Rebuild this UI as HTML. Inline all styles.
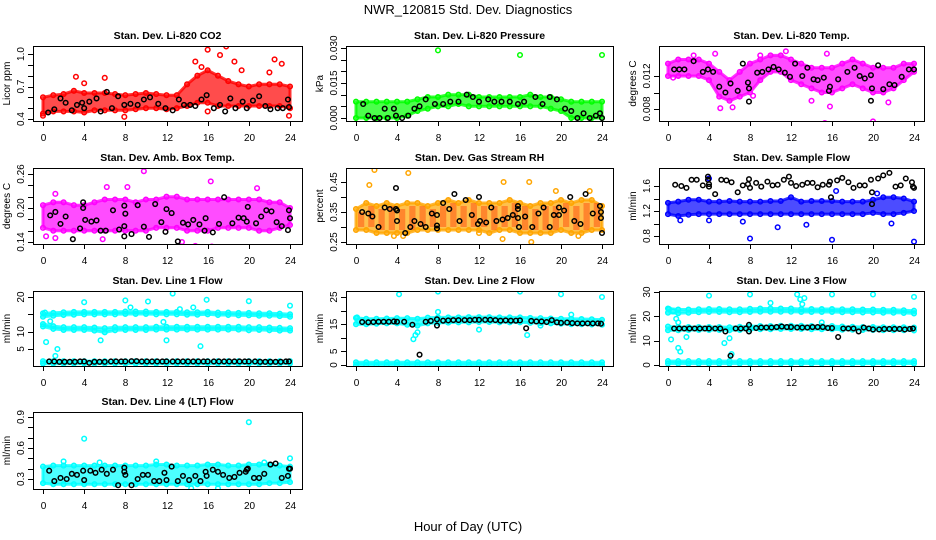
<!DOCTYPE html>
<html><head><meta charset="utf-8"><style>
body{margin:0;background:#fff;}
svg{display:block;font-family:"Liberation Sans",sans-serif;}
</style></head><body>
<svg id="chart" width="936" height="540" viewBox="0 0 936 540">
<text x="468" y="14" text-anchor="middle" font-size="13">NWR_120815  Std. Dev. Diagnostics</text>
<text x="468" y="531" text-anchor="middle" font-size="13">Hour of Day (UTC)</text>
</svg>
<script>
const hours=[0,1,2,3,4,5,6,7,8,9,10,11,12,13,14,15,16,17,18,19,20,21,22,23,24];
const xTicks=[0,4,8,12,16,20,24];

const co2Lo=[0.45,0.47,0.47,0.47,0.46,0.48,0.48,0.48,0.48,0.49,0.50,0.50,0.49,0.50,0.52,0.55,0.55,0.52,0.52,0.52,0.52,0.52,0.52,0.52,0.50];
const co2Hi=[0.60,0.62,0.63,0.66,0.64,0.64,0.64,0.63,0.62,0.63,0.64,0.63,0.62,0.62,0.72,0.80,0.85,0.80,0.75,0.72,0.70,0.72,0.72,0.72,0.70];
const co2Out=[[0,0.43],[3.2,0.79],[4,0.73],[6,0.78],[7.9,0.42],[14.8,0.93],[16,1.04],[17.2,0.99],[17.8,1.07],[18.6,0.93],[22.5,0.95],[23.2,0.91],[23.9,0.43],[16,0.47],[22,0.83],[15.4,0.88],[19.3,0.85]];
const co2Blk=[[0.5,0.46],[1.1,0.49],[1.7,0.59],[2.2,0.55],[2.8,0.48],[3.3,0.53],[3.8,0.55],[4,0.50],[4.5,0.56],[5.2,0.59],[5.6,0.47],[6.2,0.65],[6.7,0.50],[7.3,0.61],[7.9,0.53],[8.5,0.54],[9.2,0.53],[9.8,0.58],[10.4,0.60],[11.2,0.54],[11.9,0.50],[12.6,0.48],[13.2,0.58],[13.7,0.53],[14.3,0.53],[14.8,0.52],[15.4,0.58],[15.9,0.62],[16.6,0.50],[17.2,0.53],[17.7,0.47],[18.2,0.59],[18.7,0.50],[19.4,0.56],[19.8,0.50],[20.4,0.57],[21,0.61],[21.6,0.52],[22.1,0.49],[22.8,0.50],[23.3,0.50],[23.9,0.51],[23.8,0.58]];

const presLo=[0,0,0,0,0,0.001,0.003,0.004,0.005,0.005,0.006,0.005,0.005,0.005,0.005,0.005,0.005,0.005,0.005,0.004,0.003,0,0,0,0];
const presHi=[0.007,0.007,0.007,0.007,0.007,0.007,0.008,0.009,0.009,0.010,0.010,0.010,0.009,0.009,0.009,0.009,0.009,0.010,0.009,0.009,0.008,0.007,0.007,0.007,0.007];
const presOut=[[8,0.029],[16,0.027],[24,0.027]];
const presBlk=[[0.7,0.006],[1.2,0.001],[1.8,0],[2.3,0],[2.8,0.004],[3.1,0],[3.7,0.004],[3.9,0.001],[4.5,0],[5.1,0.001],[5.7,0.004],[6.2,0.005],[6.8,0.008],[7.7,0.006],[8.5,0.006],[9.2,0.007],[10,0.007],[10.8,0.010],[11.4,0.009],[12,0.007],[12.9,0.008],[13.5,0.007],[14.2,0.007],[15,0.007],[15.8,0.006],[16.4,0.007],[17.5,0.009],[18.2,0.006],[18.9,0.009],[19.6,0.008],[20.4,0.004],[21,0.003],[21.6,0],[22.2,0.002],[22.8,0],[23.4,0.001],[23.8,0.002],[24,0]];

const tempLo=[0.0120,0.0120,0.0120,0.0120,0.0115,0.0095,0.0090,0.0095,0.0100,0.0115,0.0125,0.0125,0.0115,0.0110,0.0105,0.0100,0.0100,0.0105,0.0110,0.0105,0.0100,0.0100,0.0105,0.0115,0.0125];
const tempHi=[0.0135,0.0140,0.0140,0.0140,0.0135,0.0125,0.0115,0.0125,0.0135,0.0140,0.0145,0.0145,0.0140,0.0135,0.0130,0.0130,0.0130,0.0135,0.0140,0.0135,0.0130,0.0130,0.0130,0.0135,0.0135];
const tempOut=[[4.6,0.0147],[5.1,0.0081],[6.3,0.0082],[11.5,0.0150],[15.3,0.0063],[15.8,0.0083],[20,0.0065],[15.5,0.0147],[9,0.0145],[2.5,0.0145],[21.5,0.0088],[8.3,0.0096],[0.5,0.0118],[14,0.0090]];
const tempBlk=[[0.6,0.0128],[1.1,0.0128],[1.6,0.0128],[2.5,0.0138],[3.4,0.0125],[3.9,0.0128],[4.4,0.0125],[5,0.0107],[5.6,0.0100],[6.1,0.0111],[6.8,0.0102],[7.3,0.0135],[7.8,0.0112],[7.9,0.0089],[7.9,0.0105],[8.7,0.0124],[9.2,0.0125],[9.8,0.0128],[10.3,0.0131],[10.8,0.0128],[11.4,0.0124],[11.9,0.0119],[12.4,0.0135],[13.1,0.0120],[13.6,0.0130],[14.2,0.0116],[14.6,0.0115],[15.2,0.0118],[15.8,0.0107],[15.7,0.0102],[16.6,0.0116],[17.5,0.0125],[18.2,0.0130],[18.7,0.0120],[19.2,0.0117],[19.8,0.0121],[19.9,0.0105],[19.8,0.0090],[20.5,0.0133],[21,0.0104],[21.6,0.0110],[22.1,0.0109],[22.8,0.0119],[23.5,0.0128],[24,0.0128]];

const ambLo=[0.165,0.16,0.16,0.16,0.16,0.16,0.16,0.16,0.16,0.16,0.16,0.165,0.165,0.165,0.16,0.16,0.16,0.165,0.165,0.165,0.165,0.16,0.16,0.165,0.17];
const ambHi=[0.205,0.21,0.21,0.205,0.205,0.21,0.215,0.215,0.215,0.21,0.215,0.215,0.22,0.22,0.215,0.215,0.215,0.215,0.215,0.215,0.215,0.215,0.21,0.21,0.20];
const ambOut=[[9.8,0.265],[16.3,0.247],[14.8,0.133],[16.4,0.132],[6.2,0.237],[8.2,0.237],[1.2,0.225],[0.3,0.15],[13.5,0.14],[20.8,0.235],[1.2,0.147],[5.8,0.145]];
const ambBlk=[[0.7,0.187],[1.2,0.193],[1.7,0.172],[2.2,0.185],[2.9,0.145],[3.6,0.164],[3.9,0.200],[3.9,0.210],[4.1,0.179],[4.7,0.176],[5.2,0.178],[5.6,0.160],[6.1,0.160],[6.8,0.196],[7.4,0.162],[7.9,0.150],[7.9,0.168],[7.9,0.204],[8.0,0.190],[8.6,0.154],[9.2,0.205],[9.8,0.167],[10.3,0.149],[10.9,0.207],[11.5,0.175],[11.9,0.158],[12,0.198],[12.5,0.191],[13.1,0.141],[13.6,0.174],[14.1,0.171],[14.6,0.179],[15.2,0.171],[15.7,0.160],[15.8,0.182],[16.5,0.157],[17.1,0.172],[17.6,0.219],[18.4,0.173],[19,0.183],[19.5,0.182],[19.8,0.176],[19.9,0.202],[20.7,0.173],[21.2,0.185],[21.7,0.196],[22.2,0.194],[22.7,0.175],[23.2,0.168],[23.8,0.161],[23.9,0.196],[24,0.182]];

const rhLo=[0.29,0.29,0.28,0.28,0.28,0.28,0.29,0.29,0.29,0.29,0.29,0.29,0.29,0.28,0.29,0.29,0.28,0.28,0.28,0.28,0.29,0.28,0.28,0.29,0.29];
const rhHi=[0.36,0.38,0.37,0.38,0.37,0.38,0.38,0.37,0.38,0.39,0.38,0.39,0.38,0.38,0.38,0.39,0.38,0.37,0.38,0.38,0.39,0.38,0.39,0.39,0.37];
const rhOut=[[1.8,0.49],[5.1,0.48],[1.3,0.44],[14.4,0.45],[16.9,0.45],[17.1,0.25],[14.3,0.26],[4.6,0.27],[21.7,0.27],[19.5,0.42],[22.8,0.42],[3.7,0.27],[12,0.28]];
const rhBlk=[[0.6,0.35],[1.2,0.345],[1.6,0.335],[2.2,0.30],[2.8,0.365],[3.3,0.36],[3.9,0.43],[3.9,0.36],[4,0.355],[4,0.32],[4.8,0.28],[5.3,0.30],[5.7,0.32],[6.3,0.31],[6.8,0.30],[7.4,0.345],[7.9,0.34],[7.9,0.305],[7.9,0.295],[8.5,0.38],[9.1,0.36],[9.6,0.41],[10.1,0.32],[10.7,0.39],[11.3,0.34],[11.9,0.31],[12,0.40],[12.1,0.32],[12.7,0.315],[13.2,0.365],[13.7,0.32],[14.3,0.325],[14.8,0.33],[15.3,0.34],[15.8,0.36],[15.8,0.37],[15.9,0.30],[15.8,0.33],[16.5,0.335],[17.2,0.30],[17.8,0.345],[18.3,0.365],[18.9,0.30],[19.3,0.34],[19.8,0.34],[19.8,0.365],[20.3,0.355],[20.9,0.40],[21.3,0.32],[21.9,0.31],[22.4,0.41],[23.1,0.345],[23.8,0.37],[23.9,0.35],[23.9,0.33],[24,0.28]];

const sfLo=[1.15,1.12,1.14,1.15,1.15,1.15,1.15,1.15,1.15,1.15,1.15,1.15,1.15,1.15,1.15,1.15,1.15,1.15,1.15,1.15,1.17,1.15,1.15,1.17,1.20];
const sfHi=[1.33,1.35,1.38,1.38,1.35,1.35,1.36,1.35,1.35,1.35,1.36,1.36,1.42,1.35,1.36,1.36,1.36,1.35,1.35,1.35,1.38,1.42,1.42,1.40,1.35];
const sfOut=[[8,0.76],[16,0.74],[24,0.71],[10.7,0.94],[13.5,0.98],[4,1.72],[16.4,1.52],[20.4,1.48],[21.8,1.0],[7.3,1.03],[1.2,1.05],[4,1.05]];
const sfBlk=[[0.7,1.62],[1.3,1.6],[1.8,1.57],[2.3,1.70],[2.8,1.70],[3.4,1.61],[3.9,1.70],[3.9,1.75],[4,1.63],[4,1.59],[4.6,1.47],[5.2,1.70],[5.7,1.69],[6.2,1.66],[6.8,1.50],[7.3,1.61],[7.8,1.63],[7.9,1.71],[8,1.57],[8.6,1.65],[9.1,1.59],[9.7,1.67],[10.2,1.61],[10.7,1.62],[11.3,1.70],[11.8,1.75],[12,1.65],[12.5,1.60],[13.1,1.62],[13.6,1.65],[14.1,1.65],[14.6,1.58],[15.1,1.62],[15.7,1.62],[15.8,1.67],[15.9,1.42],[16.5,1.69],[17,1.73],[17.6,1.66],[18.1,1.57],[18.7,1.61],[19.2,1.61],[19.8,1.70],[19.9,1.50],[19.9,1.31],[20.5,1.72],[21,1.77],[21.6,1.81],[22.2,1.59],[22.7,1.61],[23.2,1.72],[23.8,1.66],[23.9,1.59],[24,1.57]];

const l1TopLo=[14.3,14.6,14.8,14.9,15.0,15.0,15.0,15.0,15.1,15.1,15.1,15.0,15.0,15.0,14.9,14.9,15.0,14.8,14.8,14.7,14.7,14.6,14.6,14.5,14.3];
const l1TopHi=[15.3,15.4,15.6,15.7,15.7,15.7,15.7,15.7,15.8,15.8,15.8,15.7,15.7,15.7,15.6,15.6,15.7,15.5,15.5,15.4,15.4,15.3,15.3,15.2,15.0];
const l1MidLo=[11.5,10.8,10.5,10.5,10.5,10.3,9.8,10.4,10.5,10.5,10.5,10.6,10.6,10.6,10.6,10.6,10.6,10.6,10.6,10.6,10.4,10.5,10.4,10.3,10.3];
const l1MidHi=[12.2,11.6,11.3,11.3,11.3,11.2,11.0,11.3,11.3,11.3,11.3,11.4,11.4,11.4,11.4,11.4,11.4,11.4,11.4,11.4,11.3,11.3,11.2,11.1,11.0];
const l1BotLo=[0.8,0.8,0.8,0.8,0.8,0.8,0.8,0.8,0.8,0.8,0.8,0.8,0.8,0.8,0.8,0.8,0.8,0.8,0.8,0.8,0.8,0.8,0.8,0.8,0.8];
const l1BotHi=[1.5,1.5,1.5,1.5,1.5,1.5,1.5,1.5,1.5,1.5,1.5,1.5,1.5,1.5,1.5,1.5,1.5,1.5,1.5,1.5,1.5,1.5,1.5,1.5,1.5];
const l1Out=[[0.3,7],[1.4,5],[1.2,3],[4,18.5],[8,19],[10.2,18.7],[12.6,21],[15.9,19.2],[20,18.8],[24,17.5],[12,7.5],[5.6,7.5],[15.3,5.8],[13.3,16.5],[11.7,12.8],[8.5,17],[14.6,17],[0.2,15.5],[0.7,13]];
const l1Blk=[[0.6,1.4],[1.1,1.4],[1.6,1.3],[2.1,1.3],[2.6,1.3],[3.1,1.3],[3.6,1.4],[4,1.4],[4.5,1.0],[5,1.3],[5.5,1.3],[6,1.3],[6.6,1.4],[7.1,1.4],[7.6,1.4],[8,1.4],[8.6,1.5],[9.1,1.5],[9.6,1.4],[10.1,1.4],[10.6,1.4],[11.1,1.4],[11.6,1.4],[12,1.4],[12.6,1.4],[13.1,1.4],[13.6,1.4],[14.1,1.4],[14.6,1.4],[15.1,1.4],[15.6,1.4],[16,1.4],[16.6,1.4],[17.1,1.4],[17.6,1.4],[18.1,1.4],[18.6,1.4],[19.1,1.4],[19.6,1.4],[20,1.4],[20.6,1.4],[21.1,1.3],[21.6,1.3],[22.1,1.3],[22.6,1.3],[23.1,1.3],[23.6,1.4],[23.9,1.4]];

const l2Lo=[15.0,15.0,15.2,15.3,15.3,14.8,14.5,15.3,15.5,15.6,15.7,15.7,15.8,15.8,15.7,15.7,15.7,15.5,15.4,15.3,15.2,15.0,15.0,14.9,14.8];
const l2Hi=[17.3,17.0,17.0,17.1,17.2,17.2,17.0,17.4,17.5,17.5,17.5,17.6,17.6,17.6,17.5,17.5,17.5,17.3,17.2,17.1,17.0,17.0,16.9,16.8,16.6];
const l2BotLo=[0,0,0,0,0,0,0,0,0,0,0,0,0,0,0,0,0,0,0,0,0,0,0,0,0];
const l2BotHi=[1,1,1,1,1,1,1,1,1,1,1,1,1,1,1,1,1,1,1,1,1,1,1,1,1];
const l2Out=[[4.2,26],[8,27],[16,27],[20,26],[24,25],[12,13],[16.7,11],[8,19.5],[21,18.5],[5.6,9.5],[5.8,11],[6,12],[0.1,17.5],[18,14.5]];
const l2Blk=[[0.6,15.8],[1.2,15.7],[1.7,15.8],[2.2,15.9],[2.7,15.9],[3.2,15.9],[3.7,16.0],[4,15.9],[4.7,15.9],[5.5,14.8],[6.2,3.8],[6.8,15.9],[7.3,16.2],[7.9,16.8],[7.9,14.5],[8.5,16.3],[9,16.4],[9.5,16.5],[10,16.5],[10.6,16.5],[11.1,16.5],[11.6,16.6],[12,16.6],[12.6,16.6],[13.1,16.6],[13.6,16.5],[14.1,16.3],[14.6,16.4],[15.1,16.3],[15.6,16.3],[16,16.4],[16.6,13.5],[17.1,16.2],[17.6,16.0],[18.1,16.0],[18.6,15.8],[19.1,16.5],[19.6,15.7],[20,15.5],[20.6,15.6],[21.1,15.4],[21.6,15.3],[22.1,15.3],[22.6,15.3],[23.1,15.3],[23.6,15.3],[23.9,15.2]];

const l3TopLo=[21.5,21.3,21.5,21.7,21.8,21.8,21.7,21.7,21.8,21.9,21.9,21.9,21.9,21.8,21.8,21.8,21.8,21.7,21.7,21.6,21.6,21.5,21.5,21.4,21.2];
const l3TopHi=[23.2,22.8,22.8,22.9,23.0,23.0,22.9,22.9,23.1,23.2,23.2,23.2,23.2,23.0,23.0,23.0,23.0,22.9,22.9,22.8,22.8,22.7,22.7,22.5,22.3];
const l3MidLo=[14.3,14.3,14.4,14.4,14.4,14.4,14.3,14.4,14.6,14.7,14.7,14.8,14.8,14.8,14.7,14.7,14.7,14.5,14.5,14.4,14.4,14.3,14.3,14.3,14.2];
const l3MidHi=[15.8,15.6,15.6,15.6,15.6,15.6,15.5,15.7,15.9,16.0,16.0,16.1,16.1,16.1,16.0,16.0,16.0,15.8,15.7,15.6,15.6,15.5,15.5,15.5,15.4];
const l3BotLo=[0.6,0.6,0.6,0.6,0.6,0.6,0.6,0.6,0.6,0.6,0.6,0.6,0.6,0.6,0.6,0.6,0.6,0.6,0.6,0.6,0.6,0.6,0.6,0.6,0.6];
const l3BotHi=[1.6,1.6,1.6,1.6,1.6,1.6,1.6,1.6,1.6,1.6,1.6,1.6,1.6,1.6,1.6,1.6,1.6,1.6,1.6,1.6,1.6,1.6,1.6,1.6,1.6];
const l3Out=[[4,28.5],[8,29],[12.6,29],[16,29],[20,29],[24,28],[0.3,10.5],[1,7],[1.2,5.5],[1.8,11.5],[5.5,9],[6,11],[6.2,4.5],[12.9,27],[13.3,27.5],[13.1,25],[10,25.5],[0.8,19],[1,17.5],[15,17.5],[0.1,23],[0.5,22]];
const l3Blk=[[0.6,15],[1.1,15],[1.6,15],[2.1,15],[2.6,15],[3.1,15],[3.6,15],[4,15],[4.6,15],[5.1,15],[5.6,13.8],[6.1,3.8],[6.6,15],[7.1,15],[7.6,15],[7.9,16.5],[7.9,13.8],[8.6,15.2],[9.1,15.4],[9.6,15.4],[10.1,15.4],[10.6,15.6],[11.1,15.8],[11.6,15.6],[12,15.6],[12.6,15.4],[13.1,15.4],[13.6,15.4],[14.1,15.6],[14.6,15.6],[15.1,15.6],[15.6,15.2],[16,15.2],[16.6,11.5],[17.1,15],[17.6,15],[18.1,15],[18.6,13.8],[19.1,15.4],[19.6,15],[20,14.6],[20.6,14.6],[21.1,14.8],[21.6,14.8],[22.1,14.8],[22.6,14.8],[23.1,14.6],[23.6,14.8],[23.9,15]];

const l4Lo=[0.26,0.25,0.25,0.25,0.25,0.25,0.25,0.25,0.25,0.25,0.25,0.25,0.25,0.25,0.25,0.25,0.25,0.25,0.25,0.25,0.25,0.25,0.26,0.26,0.27];
const l4Hi=[0.42,0.43,0.43,0.43,0.43,0.43,0.43,0.43,0.43,0.43,0.43,0.44,0.44,0.43,0.43,0.43,0.44,0.44,0.43,0.43,0.44,0.44,0.44,0.43,0.42];
const l4Out=[[4,0.69],[12,0.97],[20,0.85],[24,0.50],[2,0.47],[5.5,0.46],[14.4,0.21],[17,0.21],[11,0.47],[21.5,0.46]];
const l4Blk=[[0.6,0.38],[1.1,0.28],[1.7,0.31],[2.3,0.30],[2.8,0.35],[3.3,0.34],[3.9,0.38],[4,0.29],[4.6,0.38],[5.1,0.36],[5.7,0.39],[6.2,0.35],[6.8,0.39],[7.3,0.24],[7.9,0.41],[7.9,0.37],[8,0.34],[8.6,0.24],[9.2,0.30],[9.7,0.34],[10.2,0.34],[10.8,0.28],[11.3,0.28],[11.8,0.36],[12,0.29],[12.5,0.42],[13.1,0.28],[13.6,0.33],[14.2,0.29],[14.8,0.33],[15.3,0.28],[15.8,0.37],[15.9,0.33],[16.5,0.39],[17,0.37],[17.5,0.34],[18.1,0.31],[18.6,0.32],[19.1,0.36],[19.7,0.37],[19.8,0.39],[19.9,0.40],[20.5,0.31],[21,0.31],[21.5,0.35],[22.1,0.44],[22.6,0.45],[23.2,0.31],[23.8,0.33],[23.9,0.40],[24,0.40]];

const colLeft=[33,346,659], colRight=[302,613,924], colX0=[43,356,668], colX24=[290,602,914];
const rowTop=[46,168,291,412], rowBot=[121,244,366,489];

const panels=[
 {id:'co2',title:'Stan. Dev. Li-820 CO2',ylab:'Licor ppm',c:0,r:0,a:[1.0,54],b:[0.4,119],ticks:[0.4,0.5,0.6,0.7,0.8,0.9,1.0],labels:[['0.4',0.4],['0.7',0.7],['1.0',1.0]],bands:[[co2Lo,co2Hi,'#ff0000']],out:[co2Out,'#ff0000'],blk:co2Blk},
 {id:'pressure',title:'Stan. Dev. Li-820 Pressure',ylab:'kPa',c:1,r:0,a:[0.03,48],b:[0,118],ticks:[0,0.005,0.01,0.015,0.02,0.025,0.03],labels:[['0.000',0],['0.015',0.015],['0.030',0.03]],bands:[[presLo,presHi,'#00ff00']],out:[presOut,'#00ff00'],blk:presBlk},
 {id:'li820-temp',title:'Stan. Dev. Li-820 Temp.',ylab:'degrees C',c:2,r:0,a:[0.012,76],b:[0.008,109],ticks:[0.006,0.008,0.010,0.012],labels:[['0.008',0.008],['0.012',0.012]],bands:[[tempLo,tempHi,'#ff00ff']],out:[tempOut,'#ff00ff'],blk:tempBlk},
 {id:'amb-box-temp',title:'Stan. Dev. Amb. Box Temp.',ylab:'degrees C',c:0,r:1,a:[0.26,174],b:[0.14,242],ticks:[0.14,0.16,0.18,0.20,0.22,0.24,0.26],labels:[['0.14',0.14],['0.20',0.20],['0.26',0.26]],bands:[[ambLo,ambHi,'#ff00ff']],out:[ambOut,'#ff00ff'],blk:ambBlk},
 {id:'gas-rh',title:'Stan. Dev. Gas Stream RH',ylab:'percent',c:1,r:1,a:[0.45,182],b:[0.25,242],ticks:[0.25,0.30,0.35,0.40,0.45],labels:[['0.25',0.25],['0.35',0.35],['0.45',0.45]],bands:[[rhLo,rhHi,'#ffa500']],out:[rhOut,'#ffa500'],blk:rhBlk},
 {id:'sample-flow',title:'Stan. Dev. Sample Flow',ylab:'ml/min',c:2,r:1,a:[1.6,186],b:[0.8,236],ticks:[0.8,1.0,1.2,1.4,1.6],labels:[['0.8',0.8],['1.2',1.2],['1.6',1.6]],bands:[[sfLo,sfHi,'#0000ff']],out:[sfOut,'#0000ff'],blk:sfBlk},
 {id:'line1-flow',title:'Stan. Dev. Line 1 Flow',ylab:'ml/min',c:0,r:2,a:[20,297],b:[5,349],ticks:[5,10,15,20],labels:[['5',5],['10',10],['20',20]],bands:[[l1TopLo,l1TopHi,'#00ffff'],[l1MidLo,l1MidHi,'#00ffff'],[l1BotLo,l1BotHi,'#00ffff']],out:[l1Out,'#00ffff'],blk:l1Blk},
 {id:'line2-flow',title:'Stan. Dev. Line 2 Flow',ylab:'ml/min',c:1,r:2,a:[25,297],b:[0,365],ticks:[0,5,10,15,20,25],labels:[['0',0],['5',5],['15',15],['25',25]],bands:[[l2Lo,l2Hi,'#00ffff'],[l2BotLo,l2BotHi,'#00ffff']],out:[l2Out,'#00ffff'],blk:l2Blk},
 {id:'line3-flow',title:'Stan. Dev. Line 3 Flow',ylab:'ml/min',c:2,r:2,a:[30,292],b:[0,365],ticks:[0,10,20,30],labels:[['0',0],['10',10],['20',20],['30',30]],bands:[[l3TopLo,l3TopHi,'#00ffff'],[l3MidLo,l3MidHi,'#00ffff'],[l3BotLo,l3BotHi,'#00ffff']],out:[l3Out,'#00ffff'],blk:l3Blk},
 {id:'line4-flow',title:'Stan. Dev. Line 4 (LT) Flow',ylab:'ml/min',c:0,r:3,a:[0.9,417],b:[0.3,479],ticks:[0.3,0.4,0.5,0.6,0.7,0.8,0.9],labels:[['0.3',0.3],['0.6',0.6],['0.9',0.9]],bands:[[l4Lo,l4Hi,'#00ffff']],out:[l4Out,'#00ffff'],blk:l4Blk}
];

const NS='http://www.w3.org/2000/svg';
const svg=document.getElementById('chart');
function mk(tag,attrs,parent){const e=document.createElementNS(NS,tag);for(const k in attrs)e.setAttribute(k,attrs[k]);(parent||svg).appendChild(e);return e;}

panels.forEach(p=>{
  const L=colLeft[p.c],R=colRight[p.c],T=rowTop[p.r],B=rowBot[p.r];
  const xs=h=>colX0[p.c]+(colX24[p.c]-colX0[p.c])*h/24;
  const ys=v=>p.b[1]+(v-p.b[0])*(p.a[1]-p.b[1])/(p.a[0]-p.b[0]);
  const g=mk('g',{});
  
  
  const cp=mk('clipPath',{id:'cp-'+p.id},g);
  mk('rect',{x:L,y:T,width:R-L,height:B-T},cp);
  const plot=mk('g',{'clip-path':'url(#cp-'+p.id+')'},g);
  
  
  p.bands.forEach((bd,bi)=>{
    const [lo,hi,col]=bd;
    let d='';
    hours.forEach((h,i)=>{d+=(i?'L':'M')+xs(h).toFixed(1)+','+ys(hi[i]).toFixed(1);});
    for(let i=hours.length-1;i>=0;i--)d+='L'+xs(hours[i]).toFixed(1)+','+ys(lo[i]).toFixed(1);
    const poly=mk('path',{d:d+'Z',fill:col,stroke:col,'stroke-width':3,'stroke-linejoin':'round','fill-opacity':0.7,'stroke-opacity':0.8},plot);
    
    
    if(col==='#ffa500'){
      hours.forEach((h,i)=>{if(i<24){
        const rr=mk('rect',{x:xs(h)+2,y:ys(hi[i])+3,width:xs(1)-xs(0)-4,height:Math.max(1,ys(lo[i])-ys(hi[i])-6),fill:'#ff3000','fill-opacity':0.4},plot);
        
        
      }});
    }
    hours.forEach((h,i)=>{
      [lo[i],hi[i]].forEach(v=>{
        const c=mk('circle',{cx:xs(h),cy:ys(v),r:2.3,fill:'none',stroke:col,'stroke-width':1.5},plot);
        
        
      });
    });
  });
  p.out[0].forEach(pt=>{
    const c=mk('circle',{cx:xs(pt[0]),cy:ys(pt[1]),r:2.3,fill:'none',stroke:p.out[1],'stroke-width':1.5},plot);
    
    
  });
  p.blk.forEach(pt=>{
    const c=mk('circle',{cx:xs(pt[0]),cy:ys(pt[1]),r:2.3,fill:'none',stroke:'#000','stroke-width':1.5},plot);
    
    
  });
  const fr=mk('rect',{x:L+0.5,y:T+0.5,width:R-L,height:B-T,fill:'none',stroke:'#000','stroke-width':1},g);
  
  
  const tt=mk('text',{x:(L+R)/2,y:T-7,'text-anchor':'middle','font-size':10.5,'font-weight':'bold'},g);
  tt.textContent=p.title;
  
  
  const yl=mk('text',{x:0,y:0,'text-anchor':'middle','font-size':10,transform:'translate('+(L-23)+','+((T+B)/2)+') rotate(-90)'},g);
  yl.textContent=p.ylab;
  
  
  xTicks.forEach(h=>{
    const x=Math.round(xs(h))+0.5;
    const tk=mk('line',{x1:x,x2:x,y1:B,y2:B+5,stroke:'#000'},g);
    
    
    const tl=mk('text',{x:x,y:B+20,'text-anchor':'middle','font-size':10},g);
    tl.textContent=h;
    
    
  });
  p.ticks.forEach(v=>{
    const y=Math.round(ys(v))+0.5;
    if(y<T-1||y>B+2)return;
    const tk=mk('line',{x1:L-5,x2:L,y1:y,y2:y,stroke:'#000'},g);
    
    
  });
  p.labels.forEach(lb=>{
    const y=ys(lb[1]);
    const t=mk('text',{x:0,y:0,'text-anchor':'middle','font-size':10,transform:'translate('+(L-9)+','+y+') rotate(-90)'},g);
    t.textContent=lb[0];
    
    
  });
});
</script>
</body></html>
